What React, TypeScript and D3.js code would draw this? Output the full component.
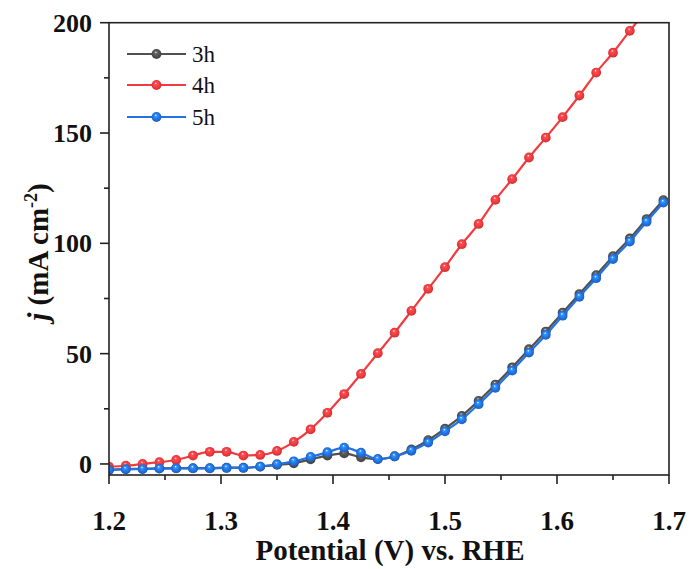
import React from 'react';
import * as d3 from 'd3';

// Applied potential (V vs. RHE), sampled every 15 mV
const potential = [
  1.2, 1.215, 1.23, 1.245, 1.26, 1.275, 1.29, 1.305, 1.32, 1.335, 1.35, 1.365,
  1.38, 1.395, 1.41, 1.425, 1.44, 1.455, 1.47, 1.485, 1.5, 1.515, 1.53, 1.545,
  1.56, 1.575, 1.59, 1.605, 1.62, 1.635, 1.65, 1.665, 1.68, 1.695,
];

// Current density (mA cm-2)
const j3h = [
  -2.6, -2.3, -2.2, -2.0, -1.9, -1.9, -1.9, -1.7, -1.7, -1.2, -0.4, 0.3,
  2.1, 3.8, 4.8, 3.0, 2.2, 3.5, 6.6, 10.8, 16.0, 21.8, 28.6, 36.0,
  43.8, 52.0, 60.0, 68.6, 77.0, 85.6, 94.2, 102.2, 111.0, 119.6,
];
const j4h = [
  -1.2, -0.8, 0.0, 0.8, 1.8, 3.8, 5.5, 5.5, 3.8, 4.1, 5.9, 10.0,
  15.7, 23.2, 31.7, 40.8, 50.2, 59.5, 69.4, 79.4, 89.2, 99.6, 108.8, 119.7,
  129.1, 138.9, 147.9, 157.2, 167.0, 177.4, 186.4, 196.3, 205.5,
];
const j5h = [
  -2.7, -2.4, -2.3, -2.1, -2.0, -2.0, -2.0, -1.8, -1.8, -1.2, -0.1, 1.2,
  3.2, 5.3, 7.4, 5.1, 2.2, 3.4, 6.0, 9.7, 14.8, 20.2, 27.1, 34.5,
  42.3, 50.5, 58.5, 67.2, 75.8, 84.2, 92.9, 100.8, 109.8, 118.5,
];

const seriesNames = ['3h', '4h', '5h'];
const seriesValues = [j3h, j4h, j5h];
const seriesColors = ['#505050', '#f23b3f', '#2272e4'];

const xTicks = [1.2, 1.3, 1.4, 1.5, 1.6, 1.7];
const xMinorTicks = [1.25, 1.35, 1.45, 1.55, 1.65];
const yTicks = [0, 50, 100, 150, 200];
const yMinorTicks = [25, 75, 125, 175];

const W = 691;
const H = 569;
const left = 109;
const right = 669;
const top = 22.7;
const bottom = 475;

const FONT = '"Liberation Serif", "Times New Roman", serif';

export default function App() {
  const x = d3.scaleLinear().domain([1.2, 1.7]).range([left, right]);
  const y = d3.scaleLinear().domain([-5, 200]).range([bottom, top]);

  const line = d3
    .line<[number, number]>()
    .x((d) => x(d[0]))
    .y((d) => y(d[1]))
    .curve(d3.curveMonotoneX);

  const series = seriesNames.map((name, i) => ({
    name,
    color: seriesColors[i],
    points: seriesValues[i].map((v, k) => [potential[k], v] as [number, number]),
  }));

  const legendY = [54, 85, 117];

  return (
    <svg
      width={W}
      height={H}
      style={{ position: 'absolute', left: 0, top: 0, background: '#fff' }}
      fontFamily={FONT}
    >
      <defs>
        <clipPath id="plot-clip">
          <rect x={left} y={top} width={right - left} height={bottom - top} />
        </clipPath>
        {series.map((s, i) => {
          const c = d3.color(s.color)!;
          return (
            <radialGradient key={i} id={`ball-${i}`} cx="0.5" cy="0.5" r="0.55" fx="0.42" fy="0.3">
              <stop offset="0%" stopColor="#ffffff" />
              <stop offset="22%" stopColor={c.brighter(0.8).formatHex()} />
              <stop offset="60%" stopColor={s.color} />
              <stop offset="100%" stopColor={c.darker(0.6).formatHex()} />
            </radialGradient>
          );
        })}
      </defs>

      <rect x={0} y={0} width={W} height={H} fill="#fff" />

      {/* data */}
      <g clipPath="url(#plot-clip)">
        {series.map((s, i) => (
          <g key={s.name}>
            <path d={line(s.points) || ''} fill="none" stroke={s.color} strokeWidth={2.2} />
            {s.points.map((p, k) => (
              <circle key={k} cx={x(p[0])} cy={y(p[1])} r={4.9} fill={`url(#ball-${i})`} />
            ))}
          </g>
        ))}
      </g>

      {/* frame */}
      <rect
        x={left}
        y={top}
        width={right - left}
        height={bottom - top}
        fill="none"
        stroke="#222"
        strokeWidth={1.6}
      />

      {/* x axis ticks */}
      {xTicks.map((t) => (
        <g key={`xt${t}`}>
          <line x1={x(t)} x2={x(t)} y1={bottom} y2={bottom + 9} stroke="#222" strokeWidth={1.6} />
          <text
            x={x(t)}
            y={530}
            textAnchor="middle"
            fontSize={27}
            fontWeight="bold"
            fill="#111"
          >
            {t.toFixed(1)}
          </text>
        </g>
      ))}
      {xMinorTicks.map((t) => (
        <line key={`xm${t}`} x1={x(t)} x2={x(t)} y1={bottom} y2={bottom + 5} stroke="#222" strokeWidth={1.6} />
      ))}

      {/* y axis ticks */}
      {yTicks.map((t) => (
        <g key={`yt${t}`}>
          <line x1={left - 9} x2={left} y1={y(t)} y2={y(t)} stroke="#222" strokeWidth={1.6} />
          <text
            x={92}
            y={y(t) + 9}
            textAnchor="end"
            fontSize={26}
            fontWeight="bold"
            fill="#111"
          >
            {t}
          </text>
        </g>
      ))}
      {yMinorTicks.map((t) => (
        <line key={`ym${t}`} x1={left - 5} x2={left} y1={y(t)} y2={y(t)} stroke="#222" strokeWidth={1.6} />
      ))}

      {/* axis titles */}
      <text x={390} y={560} textAnchor="middle" fontSize={29} fontWeight="bold" fill="#111">
        Potential (V) vs. RHE
      </text>
      <text
        transform={`translate(48, ${252}) rotate(-90)`}
        textAnchor="middle"
        fontSize={29}
        fontWeight="bold"
        fill="#111"
      >
        <tspan fontStyle="italic">j</tspan>
        <tspan> (mA cm</tspan>
        <tspan fontSize={18} dy={-11}>-2</tspan>
        <tspan dy={11}>)</tspan>
      </text>

      {/* legend */}
      {series.map((s, i) => (
        <g key={`lg${s.name}`}>
          <line x1={127} x2={186} y1={legendY[i]} y2={legendY[i]} stroke={s.color} strokeWidth={2.2} />
          <circle cx={156.5} cy={legendY[i]} r={4.9} fill={`url(#ball-${i})`} />
          <text x={192} y={legendY[i] + 8} fontSize={23} fill="#111">
            {s.name}
          </text>
        </g>
      ))}
    </svg>
  );
}
